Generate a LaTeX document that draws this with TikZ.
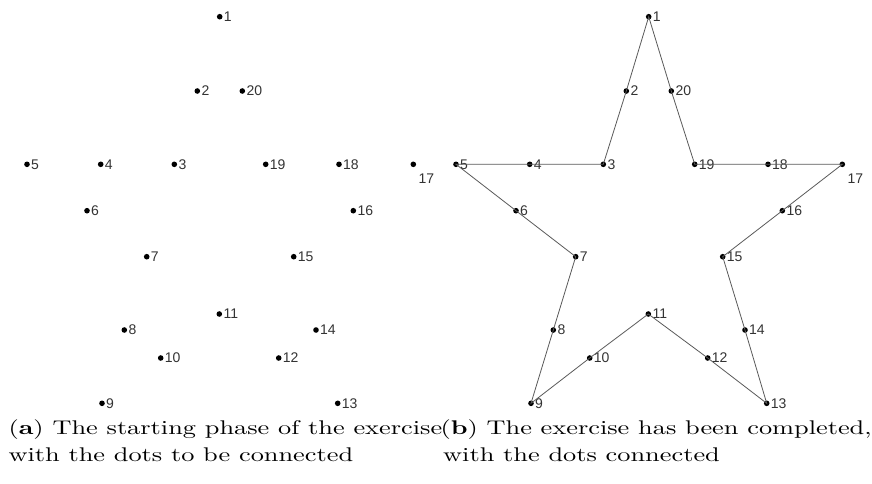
\documentclass[tikz,border=0pt]{standalone}
\usepackage{fontspec}
\newfontfamily\lblfont{Liberation Sans}
\begin{document}
\begin{tikzpicture}[x=0.5pt,y=-0.5pt,
  dot/.style={circle,fill=black,inner sep=0pt,minimum size=2.8pt},
  lbl/.style={inner sep=0pt,anchor=west,font=\lblfont\fontsize{7}{8}\selectfont,text=black!80},
  edge/.style={draw=black!65,line width=0.4pt},
  captxt/.style={inner sep=0pt,anchor=base west,align=left,xscale=1.33,transform shape,
    font=\fontsize{9.9}{13.5}\selectfont}]
\useasboundingbox (0,0) rectangle (872,483);
\foreach \n/\x/\y in {1/648.7/16.7,2/626.3/91,3/603.3/164.3,4/529.7/164.3,5/456/164.3,
  6/516/210.7,7/575.7/256.7,8/553.3/330,9/531/403.3,10/589.7/358,11/648.3/314,
  12/707.7/358,13/766.7/403.3,14/745/330,15/722.7/256.7,16/782.3/210.7,17/842.3/164.3,
  18/768/164.3,19/694.7/164.3,20/671.3/91}{
  \node[dot] (a\n) at (\x-429,\y) {};
  \node[dot] (b\n) at (\x,\y) {};
}
\foreach \n in {1,...,16,18,19,20}{
  \node[lbl] (la\n) at ([xshift=1.9pt]a\n.center) {\n};
  \node[lbl] (lb\n) at ([xshift=1.9pt]b\n.center) {\n};
}
\node[lbl,anchor=north west] (la17) at ([xshift=2.5pt,yshift=-4.5pt]a17.center) {17};
\node[lbl,anchor=north west] (lb17) at ([xshift=2.5pt,yshift=-4.5pt]b17.center) {17};
\draw[edge] (b1.center) -- (b2.center) -- (b3.center) -- (b4.center) -- (b5.center)
  -- (b6.center) -- (b7.center) -- (b8.center) -- (b9.center) -- (b10.center)
  -- (b11.center) -- (b12.center) -- (b13.center) -- (b14.center) -- (b15.center)
  -- (b16.center) -- (b17.center) -- (b18.center) -- (b19.center) -- (b20.center) -- cycle;
\node[captxt] (capa) at (8,461) {(\textbf{a}) The starting phase of the exercise\\with the dots to be connected};
\node[captxt] (capb) at (440,461) {(\textbf{b}) The exercise has been completed,\\\hspace*{1pt}with the dots connected};
\end{tikzpicture}
\end{document}
